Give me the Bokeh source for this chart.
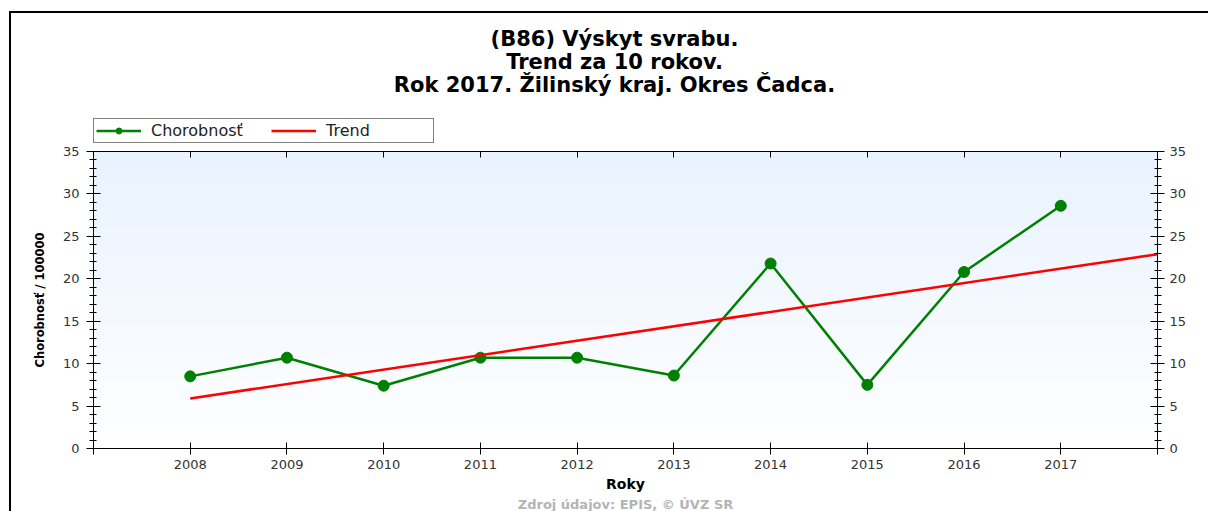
from bokeh.plotting import figure
from bokeh.layouts import column
from bokeh.models import (Range1d, LinearAxis, FixedTicker, SingleIntervalTicker,
                          Legend, LegendItem, Title, Label)
from bokeh.embed import file_html
from bokeh.resources import INLINE
import numpy as np

# ---- data -------------------------------------------------------------
years = [2008, 2009, 2010, 2011, 2012, 2013, 2014, 2015, 2016, 2017]
chorobnost = [8.5, 10.7, 7.4, 10.7, 10.7, 8.6, 21.8, 7.5, 20.8, 28.6]
trend_years = [2008, 2018]
trend_values = [5.9, 22.9]
x_ticks = [2007, 2008, 2009, 2010, 2011, 2012, 2013, 2014, 2015, 2016, 2017, 2018]
x_tick_labels = ["", "2008", "2009", "2010", "2011", "2012", "2013", "2014",
                 "2015", "2016", "2017", ""]
series_names = ["Chorobnosť", "Trend"]
title_lines = ["(B86) Výskyt svrabu.", "Trend za 10 rokov.",
               "Rok 2017. Žilinský kraj. Okres Čadca."]
y_label = "Chorobnosť / 100000"
x_label = "Roky"
source_note = "Zdroj údajov: EPIS, © ÚVZ SR"

FONT = "DejaVu Sans"
X0, X1 = 2007, 2018
Y0, Y1 = 0, 35
GREEN = "#008000"
RED = "#ff0000"

W = 1208
TOP_H = 143
MAIN_H = 511 - TOP_H
FRAME_LEFT = 93

# ---- header figure: title + legend (its frame is aligned with the chart's) ----
head = figure(width=W, height=TOP_H, x_range=Range1d(0, 1), y_range=Range1d(0, 1),
              output_backend="svg", toolbar_location=None,
              x_axis_location=None, y_axis_location=None,
              min_border=0, min_border_left=0, min_border_right=0,
              min_border_top=0, min_border_bottom=0)
head.outline_line_color = None
head.xgrid.visible = False
head.ygrid.visible = False
head.background_fill_color = None
head.border_fill_color = None

for i, line in enumerate(title_lines):
    head.add_layout(Label(x=614 - FRAME_LEFT, y=TOP_H - 38 - 23 * i,
                          x_units="screen", y_units="screen",
                          text=line, text_align="center", text_baseline="middle",
                          text_font=FONT, text_font_size="21px", text_font_style="bold",
                          text_color="black"))

# legend proxies: same series, lying outside this header's (0..1) ranges
h_line = head.line(years, chorobnost, line_color=GREEN, line_width=2.5)
h_pts = head.scatter(years, chorobnost, size=10, marker="circle",
                     fill_color=GREEN, line_color=GREEN)
h_trend = head.line(trend_years, trend_values, line_color=RED, line_width=2.5)

legend = Legend(items=[LegendItem(label=series_names[0], renderers=[h_line, h_pts]),
                       LegendItem(label=series_names[1], renderers=[h_trend])],
                orientation="horizontal", location=(0, 0))
legend.border_line_color = "black"
legend.border_line_width = 1
legend.background_fill_color = "white"
legend.label_text_font = FONT
legend.label_text_font_size = "16px"
legend.label_text_color = "#222222"
legend.glyph_width = 45
legend.glyph_height = 15
legend.label_height = 15
legend.label_width = 105
legend.label_standoff = 10
legend.spacing = 15
legend.padding = 2
legend.margin = 0
head.add_layout(legend)

# ---- main chart --------------------------------------------------------
p = figure(width=W, height=MAIN_H, x_range=Range1d(X0, X1), y_range=Range1d(Y0, Y1),
           output_backend="svg", toolbar_location=None,
           min_border_left=FRAME_LEFT, min_border_right=51, min_border_top=8,
           min_border_bottom=61)
p.background_fill_color = "white"
p.border_fill_color = None
p.outline_line_color = "black"
p.outline_line_width = 1
p.xgrid.visible = False
p.ygrid.visible = False

# gradient background of the plotting area
n = 200
img = np.empty((n, 1), dtype=np.uint32)
view = img.view(dtype=np.uint8).reshape((n, 1, 4))
t = np.linspace(0, 1, n)  # 0 bottom -> 1 top
view[:, 0, 0] = (255 - 22 * t).astype(np.uint8)
view[:, 0, 1] = (255 - 12 * t).astype(np.uint8)
view[:, 0, 2] = 255
view[:, 0, 3] = 255
p.image_rgba(image=[img], x=X0, y=Y0, dw=X1 - X0, dh=Y1 - Y0)

def style_y(ax, standoff):
    ax.ticker = SingleIntervalTicker(interval=5, num_minor_ticks=5)
    ax.axis_line_color = "black"
    ax.major_tick_line_color = "black"
    ax.minor_tick_line_color = "black"
    ax.major_tick_in = 7
    ax.major_tick_out = 7
    ax.minor_tick_in = 3
    ax.minor_tick_out = 4
    ax.major_label_text_font = FONT
    ax.major_label_text_font_size = "13px"
    ax.major_label_text_color = "#333333"
    ax.major_label_standoff = standoff

yl = p.yaxis[0]
style_y(yl, 7)
yl.axis_label = y_label
yl.axis_label_text_font = FONT
yl.axis_label_text_font_size = "11.5px"
yl.axis_label_text_font_style = "bold"
yl.axis_label_text_color = "black"
yl.axis_label_standoff = 13

yr = LinearAxis()
style_y(yr, 5)
p.add_layout(yr, "right")

tick_map = {x: s for x, s in zip(x_ticks, x_tick_labels)}
xb = p.xaxis[0]
xb.ticker = FixedTicker(ticks=x_ticks)
xb.major_label_overrides = tick_map
xb.axis_line_color = "black"
xb.major_tick_line_color = "black"
xb.major_tick_in = 6
xb.major_tick_out = 6
xb.minor_tick_line_color = None
xb.major_label_text_font = FONT
xb.major_label_text_font_size = "13px"
xb.major_label_text_color = "#333333"
xb.major_label_standoff = 5
xb.axis_label = x_label
xb.axis_label_text_font = FONT
xb.axis_label_text_font_size = "14px"
xb.axis_label_text_font_style = "bold"
xb.axis_label_text_color = "black"
xb.axis_label_standoff = 4

xt = LinearAxis(ticker=FixedTicker(ticks=x_ticks))
xt.major_label_overrides = {x: " " for x in x_ticks}
xt.major_label_text_font_size = "1px"
xt.major_label_standoff = 0
xt.axis_line_color = "black"
xt.major_tick_line_color = "black"
xt.major_tick_in = 6
xt.major_tick_out = 0
xt.minor_tick_line_color = None
p.add_layout(xt, "above")

p.line(years, chorobnost, line_color=GREEN, line_width=2.5)
p.scatter(years, chorobnost, size=11, marker="circle", fill_color=GREEN, line_color=GREEN)
p.line(trend_years, trend_values, line_color=RED, line_width=2.5)

p.add_layout(Title(text=source_note, align="center", text_font=FONT, text_font_size="13px",
                   text_font_style="bold", text_color="#b4b4b4", standoff=0), "below")

layout = column(head, p, spacing=0)
layout.styles = {
    "background": "linear-gradient(#000, #000) 9px 11px / 2px 100% no-repeat, "
                  "linear-gradient(#000, #000) 9px 11px / 100% 2px no-repeat, #ffffff"
}
open("out.html", "w").write(file_html(layout, INLINE))
